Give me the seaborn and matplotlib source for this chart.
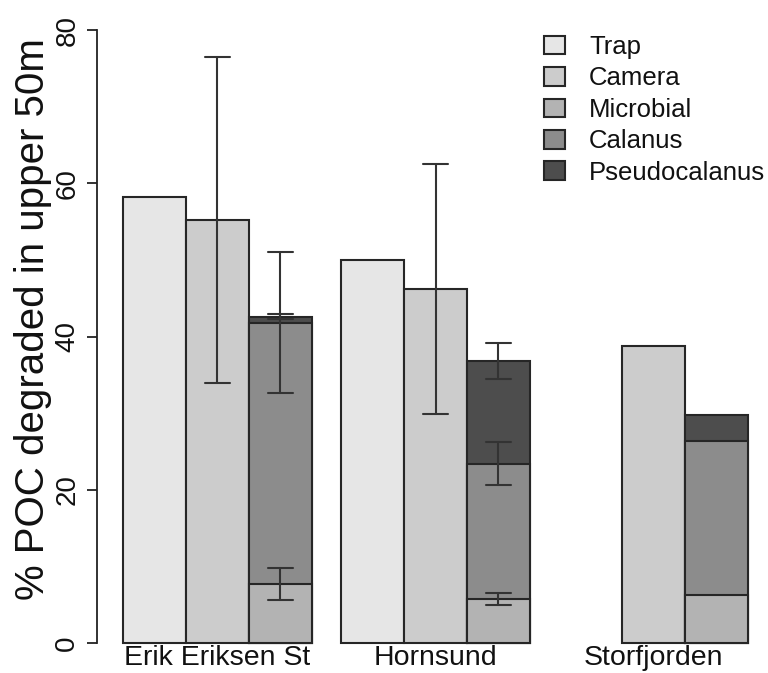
import numpy as np
import pandas as pd
import matplotlib
matplotlib.use("Agg")
import matplotlib.pyplot as plt
from matplotlib.patches import Patch
import seaborn as sns

# values (% POC degraded in upper 50 m)
sites = ["Erik Eriksen St", "Hornsund", "Storfjorden"]
slots = ["Trap", "Camera", "Stack"]
trap = [58.2, 50.0, np.nan]
camera = [55.2, 46.2, 38.8]
camera_sd = [21.3, 16.3, 0.0]
microbial = [7.7, 5.7, 6.2]
microbial_sd = [2.1, 0.8, 0.0]
calanus = [34.1, 17.7, 20.2]
calanus_sd = [9.2, 2.8, 0.0]
pseudo = [0.8, 13.4, 3.3]
pseudo_sd = [0.3, 2.4, 0.0]

names = ["Trap", "Camera", "Microbial", "Calanus", "Pseudocalanus"]
greys = ["#e6e6e6", "#cccccc", "#b3b3b3", "#8c8c8c", "#4d4d4d"]
col = dict(zip(names, greys))

sns.set_style("ticks")
plt.rcParams['font.family'] = ['Liberation Sans', 'DejaVu Sans']
for k in ["text.color", "axes.labelcolor", "xtick.color", "ytick.color"]:
    plt.rcParams[k] = "#111111"

EDGE = "#262626"
LW = 1.5


def rows(slot, tops, sds):
    out = []
    for site, top, sd in zip(sites, tops, sds):
        if np.isnan(top):
            continue
        if sd > 0:
            out.append(dict(site=site, slot=slot, value=top - sd, err=True))
            out.append(dict(site=site, slot=slot, value=top + sd, err=True))
        else:
            out.append(dict(site=site, slot=slot, value=top, err=False))
    return out


fig = plt.figure(figsize=(7.68, 6.73), dpi=100)
ax = fig.add_axes([97 / 768, 30 / 673, 663 / 768, 613 / 673])


def draw(df, palette):
    common = dict(x="site", y="value", hue="slot", order=sites, hue_order=slots,
                  palette=palette, width=0.865, gap=0, dodge=True, saturation=1,
                  edgecolor=EDGE, linewidth=LW, legend=False, ax=ax)
    plain = df[~df["err"]]
    witherr = df[df["err"]]
    if len(plain):
        sns.barplot(data=plain, errorbar=None, **common)
    if len(witherr):
        sns.barplot(data=witherr, errorbar=("pi", 100), capsize=0.34,
                    err_kws={"color": "#333333", "linewidth": LW}, **common)


zero = [0.0] * 3
tot1 = [m + c + p for m, c, p in zip(microbial, calanus, pseudo)]
tot2 = [m + c for m, c in zip(microbial, calanus)]

layer1 = pd.DataFrame(rows("Trap", trap, zero) + rows("Camera", camera, camera_sd)
                      + rows("Stack", tot1, pseudo_sd))
draw(layer1, {"Trap": col["Trap"], "Camera": col["Camera"], "Stack": col["Pseudocalanus"]})
layer2 = pd.DataFrame(rows("Stack", tot2, calanus_sd))
draw(layer2, {"Trap": col["Trap"], "Camera": col["Camera"], "Stack": col["Calanus"]})
layer3 = pd.DataFrame(rows("Stack", microbial, microbial_sd))
draw(layer3, {"Trap": col["Trap"], "Camera": col["Camera"], "Stack": col["Microbial"]})

for p in ax.patches:
    p.set_clip_on(False)

ax.set_xlim(-0.4325 - 26 / 218, 2.4325 + 12 / 218)
ax.set_ylim(0, 80)
ax.set_yticks([0, 20, 40, 60, 80])
for s in ["top", "right", "bottom"]:
    ax.spines[s].set_visible(False)
ax.spines["left"].set_bounds(0, 80)
ax.spines["left"].set_linewidth(1.3)
ax.spines["left"].set_color("#222222")
ax.tick_params(axis="y", length=7, width=1.3, color="#222222", labelsize=20,
               pad=5, labelrotation=90)
for t in ax.get_yticklabels():
    t.set_va("center")
ax.tick_params(axis="x", length=0, labelsize=20.5, pad=1.5)
ax.set_xlabel("")
ax.set_ylabel("% POC degraded in upper 50m", fontsize=29)
ax.yaxis.set_label_coords(-0.068, 0.5286)

handles = [Patch(facecolor=col[n], edgecolor=EDGE, linewidth=LW) for n in names]
fig.legend(handles, names, loc="upper left", bbox_to_anchor=(544 / 768, 638 / 673),
           frameon=False, fontsize=18.5, borderpad=0, borderaxespad=0,
           handlelength=0.82, handleheight=0.75, handletextpad=0.93, labelspacing=0.29)

fig.savefig("out.png", dpi=100)
